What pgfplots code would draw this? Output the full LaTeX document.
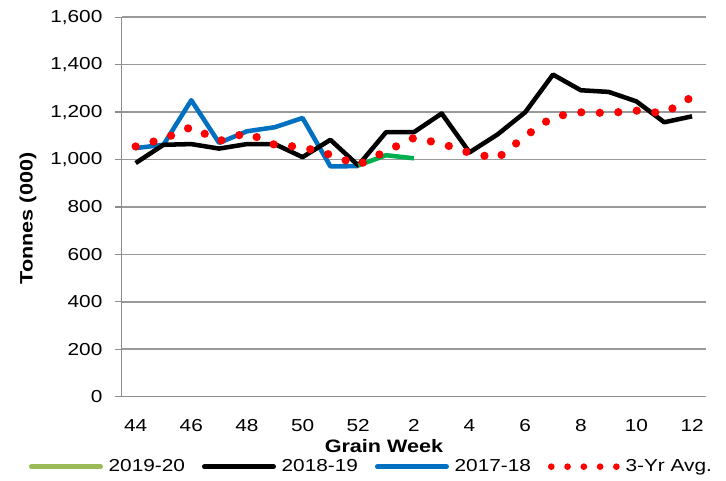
\documentclass[border=0pt]{standalone}
\usepackage{pgfplots}
\pgfplotsset{compat=1.18}
\usepackage{fontspec}
\setmainfont[FakeStretch=1.2]{Liberation Sans}
\definecolor{cgreen}{HTML}{00B050}
\definecolor{clgreen}{HTML}{9BBB59}
\definecolor{cblue}{HTML}{0070C0}
\definecolor{cred}{HTML}{FF0000}
\definecolor{cgrid}{HTML}{999999}
\definecolor{caxis}{HTML}{8C8C8C}
\begin{document}
\begin{tikzpicture}[font=\fontsize{13}{15}\selectfont]
\useasboundingbox (0,0) rectangle (544.5pt,-360.75pt);
\begin{axis}[
  at={(91.3pt,-297.5pt)}, anchor=south west,
  scale only axis, width=438.2pt, height=284.6pt,
  xmin=-0.5, xmax=20.5, ymin=0, ymax=1600,
  axis lines=left, axis line style={caxis, line width=1pt, -},
  xtick={0,2,...,20},
  xticklabels={44,46,48,50,52,2,4,6,8,10,12},
  xtick style={draw=none},
  extra x ticks={-0.5,0.5,...,20.5},
  extra x tick labels={},
  extra x tick style={grid=none, tick style={draw=caxis, line width=1pt}},
  ytick={0,200,...,1600},
  ytick style={draw=caxis, line width=1pt},
  tick align=outside, major tick length=5pt,
  ymajorgrids, grid style={cgrid, line width=1.2pt},
  /pgf/number format/assume math mode=true,
  /pgf/number format/1000 sep={,},
  tick label style={font=\fontsize{13}{15}\selectfont, text=black},
  xticklabel style={yshift=-8.5pt},
  yticklabel style={xshift=-6pt},
  legend style={draw=none, fill=none, at={(0.428,-0.1845)}, anchor=center,
    font=\fontsize{13}{15}\selectfont, legend columns=4,
    /tikz/every odd column/.append style={column sep=2.25pt},
    /tikz/every even column/.append style={column sep=10.75pt}},
  clip=false,
]
\addlegendimage{legend image code/.code={\draw[clgreen, line width=3.5pt, line cap=round] (0pt,0pt)--(52pt,0pt);}}
\addlegendentry{2019-20}
\addlegendimage{legend image code/.code={\draw[black, line width=3.5pt, line cap=round] (0pt,0pt)--(52pt,0pt);}}
\addlegendentry{2018-19}
\addlegendimage{legend image code/.code={\draw[cblue, line width=3.5pt, line cap=round] (0pt,0pt)--(52pt,0pt);}}
\addlegendentry{2017-18}
\addlegendimage{legend image code/.code={\draw[cred, line width=5pt, line cap=round, dash pattern=on 0pt off 12.2pt] (2pt,0pt)--(51pt,0pt);}}
\addlegendentry{3-Yr Avg.}
% 2017-18
\addplot[forget plot, cblue, line width=3.4pt, line join=round] coordinates {
(0,1048) (1,1062) (2,1250) (3,1070) (4,1119) (5,1136) (6,1175) (7,971) (8,972)};
% 2018-19
\addplot[forget plot, black, line width=3.4pt, line join=round] coordinates {
(0,985) (1,1062) (2,1065) (3,1046) (4,1065) (5,1065) (6,1010) (7,1083) (8,975)
(9,1115) (10,1115) (11,1194) (12,1030) (13,1105) (14,1199) (15,1358) (16,1292)
(17,1285) (18,1245) (19,1157) (20,1182)};
% 2019-20
\addplot[forget plot, cgreen, line width=3.4pt, line join=round] coordinates {
(8,975) (9,1018) (10,1005)};
% 3-Yr Avg
\addplot[forget plot, cred, line width=6.2pt, line cap=round, dash pattern=on 0pt off 13.9pt] coordinates {
(0,1055) (1,1087) (2,1137) (3,1078) (4,1112) (5,1062) (6,1052) (7,1020) (8,977)
(9,1035) (10,1091) (11,1067) (12,1028) (13,1005) (14,1098) (15,1180) (16,1199)
(17,1196) (18,1206) (19,1195) (20,1264)};
\end{axis}
\node[font=\fontsize{13.5}{16}\selectfont\bfseries, rotate=90] at (21pt,-163.9pt) {Tonnes (000)};
\node[font=\fontsize{13.5}{16}\selectfont\bfseries] at (288pt,-334.5pt) {Grain Week};
\end{tikzpicture}
\end{document}
